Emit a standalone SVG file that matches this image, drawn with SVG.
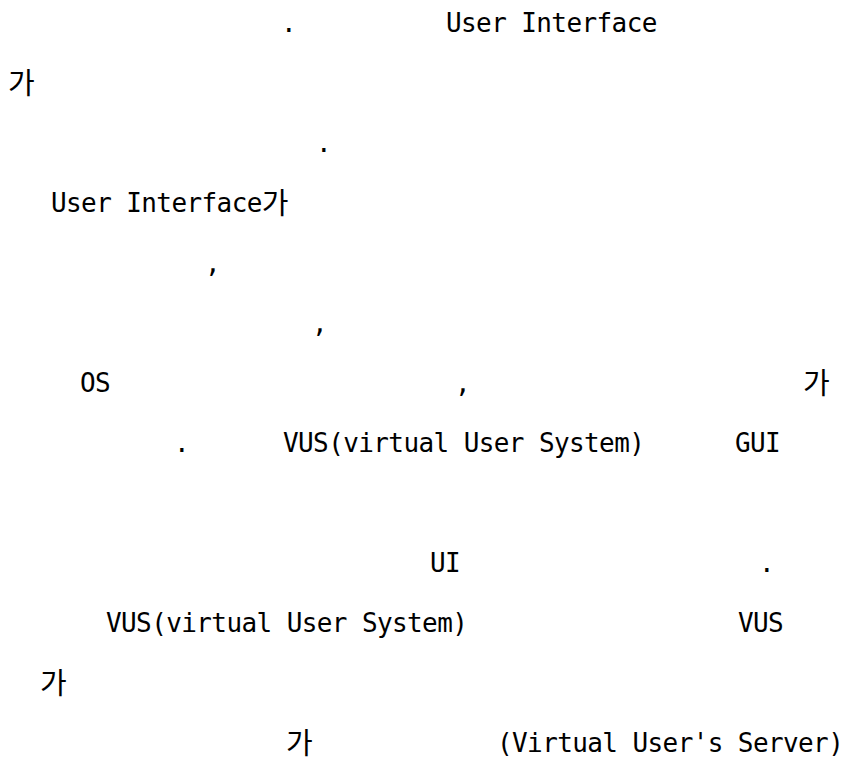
<svg xmlns="http://www.w3.org/2000/svg" width="846" height="763" viewBox="0 0 846 763">
<style>
text { font-family: "DejaVu Sans Mono", "Noto Sans CJK KR", monospace; font-size: 26px; letter-spacing: -0.6px; fill: #000; }
.k { font-family: "Noto Sans CJK KR", "DejaVu Sans Mono", sans-serif; font-size: 29px; letter-spacing: 0; }
</style>
<rect width="846" height="763" fill="#fff"/>
<g id="line1"><text x="281" y="32">.</text><text x="446" y="32">User Interface</text></g>
<g id="line2"><text class="k" x="8" y="94">가</text></g>
<g id="line3"><text x="316" y="152">.</text></g>
<g id="line4"><text x="51" y="212">User Interface<tspan class="k" dy="2">가</tspan></text></g>
<g id="line5"><text x="205" y="272">,</text></g>
<g id="line6"><text x="312" y="332">,</text></g>
<g id="line7"><text x="80" y="392">OS</text><text x="455" y="392">,</text><text class="k" x="803" y="394">가</text></g>
<g id="line8"><text x="174" y="452">.</text><text x="283" y="452">VUS(virtual User System)</text><text x="735" y="452">GUI</text></g>
<g id="line10"><text x="430" y="572">UI</text><text x="759" y="572">.</text></g>
<g id="line11"><text x="106" y="632">VUS(virtual User System)</text><text x="738" y="632">VUS</text></g>
<g id="line12"><text class="k" x="40" y="694">가</text></g>
<g id="line13"><text class="k" x="286" y="754">가</text><text x="497" y="752">(Virtual User's Server)</text></g>
</svg>
